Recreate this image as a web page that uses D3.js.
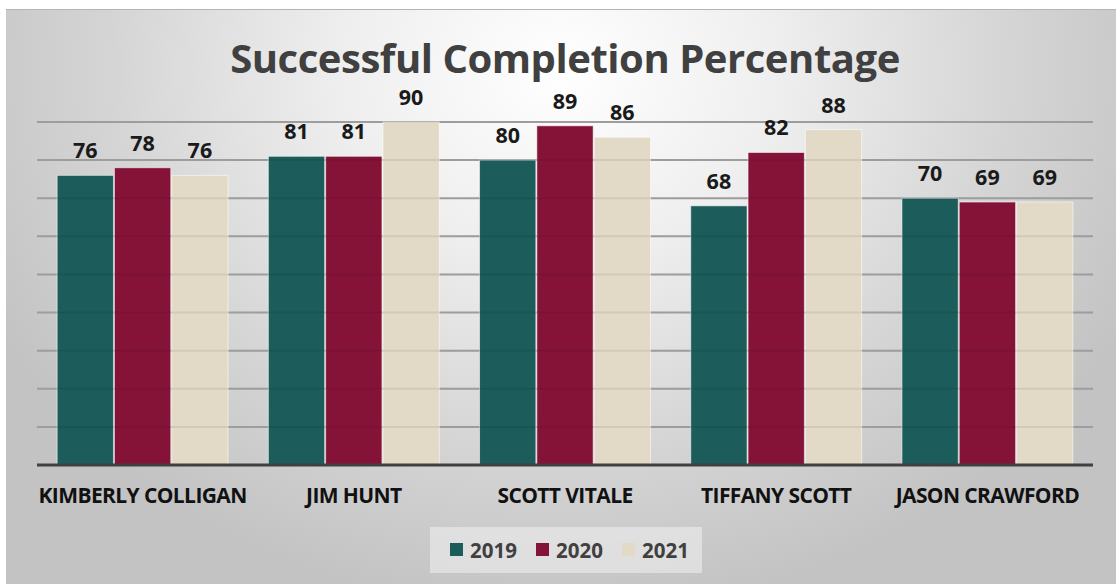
<!DOCTYPE html>
<html>
<head>
<meta charset="utf-8">
<script src="https://cdn.jsdelivr.net/npm/d3@7"></script>
<style>
  html, body { margin: 0; padding: 0; background: #ffffff; }
  svg { display: block; }
</style>
</head>
<body>
<script>
// Successful completion percentage per person, three years
const categories = ["KIMBERLY COLLIGAN", "JIM HUNT", "SCOTT VITALE", "TIFFANY SCOTT", "JASON CRAWFORD"];
const seriesNames = ["2019", "2020", "2021"];
const values2019 = [76, 81, 80, 68, 70];
const values2020 = [78, 81, 89, 82, 69];
const values2021 = [76, 90, 86, 88, 69];
const gridTicks = [0, 10, 20, 30, 40, 50, 60, 70, 80, 90];
const colors = ["#1c5c5a", "#851337", "#e2dac6"];

const series = [values2019, values2020, values2021];
const W = 1116, H = 586;
const margin = { left: 37, right: 23, top: 122, bottom: 121 };

const svg = d3.select("body").append("svg")
  .attr("width", W).attr("height", H);

const defs = svg.append("defs");
const bg = defs.append("radialGradient")
  .attr("id", "bgGrad")
  .attr("gradientUnits", "userSpaceOnUse")
  .attr("cx", 560).attr("cy", 70).attr("r", 640)
  .attr("gradientTransform", "translate(560,70) scale(1,0.85) translate(-560,-70)");
bg.append("stop").attr("offset", "0%").attr("stop-color", "#ffffff");
bg.append("stop").attr("offset", "35%").attr("stop-color", "#eeeeee");
bg.append("stop").attr("offset", "70%").attr("stop-color", "#d5d5d5");
bg.append("stop").attr("offset", "100%").attr("stop-color", "#c3c3c3");

// chart background
svg.append("rect")
  .attr("x", 6).attr("y", 9).attr("width", W - 6).attr("height", 575)
  .attr("fill", "url(#bgGrad)");
svg.append("line")
  .attr("x1", 6).attr("x2", W).attr("y1", 9.5).attr("y2", 9.5)
  .attr("stroke", "#b4b4b4").attr("stroke-width", 1);

const x0 = d3.scaleBand()
  .domain(categories)
  .range([margin.left, W - margin.right])
  .paddingInner(0.186).paddingOuter(0.093);
const x1 = d3.scaleBand()
  .domain(seriesNames)
  .range([0, x0.bandwidth()])
  .padding(0);
const y = d3.scaleLinear()
  .domain([0, 90])
  .range([H - margin.bottom, margin.top]);

const gridValues = gridTicks.filter(t => t > 0);

// gridlines
svg.append("g")
  .selectAll("line")
  .data(gridValues)
  .join("line")
  .attr("x1", margin.left).attr("x2", W - margin.right)
  .attr("y1", d => y(d)).attr("y2", d => y(d))
  .attr("stroke", "#a9a9a9").attr("stroke-width", 2);

// bars
const groups = svg.append("g")
  .selectAll("g")
  .data(categories)
  .join("g")
  .attr("transform", d => `translate(${x0(d)},0)`);

groups.selectAll("rect")
  .data((d, i) => seriesNames.map((s, j) => ({ s, j, v: series[j][i] })))
  .join("rect")
  .attr("x", d => x1(d.s) + 0.5)
  .attr("width", x1.bandwidth() - 1)
  .attr("y", d => y(d.v))
  .attr("height", d => y(0) - y(d.v))
  .attr("fill", d => colors[d.j])
  .attr("stroke", "rgba(255,255,255,0.55)")
  .attr("stroke-width", 1);

// faint gridlines showing through the bars
svg.append("g")
  .selectAll("line")
  .data(gridValues)
  .join("line")
  .attr("x1", margin.left).attr("x2", W - margin.right)
  .attr("y1", d => y(d)).attr("y2", d => y(d))
  .attr("stroke", "#000000").attr("stroke-opacity", 0.07).attr("stroke-width", 2);

// value labels
groups.selectAll("text")
  .data((d, i) => seriesNames.map((s, j) => ({ s, j, v: series[j][i] })))
  .join("text")
  .attr("x", d => x1(d.s) + x1.bandwidth() / 2)
  .attr("y", d => y(d.v) - 17)
  .attr("text-anchor", "middle")
  .attr("font-family", "Open Sans, sans-serif")
  .attr("font-weight", 700)
  .attr("font-size", 21.5)
  .attr("fill", "#1a1a1a")
  .text(d => d.v);

// baseline / category axis
const xAxis = svg.append("g")
  .attr("transform", `translate(0,${y(0)})`)
  .call(d3.axisBottom(x0).tickSize(0).tickPadding(23));
xAxis.select(".domain")
  .attr("d", `M${margin.left},0H${W - margin.right}`)
  .attr("stroke", "#404040").attr("stroke-width", 3);
xAxis.selectAll("text")
  .attr("font-family", "Open Sans, sans-serif")
  .attr("font-weight", 700)
  .attr("font-size", 21)
  .attr("letter-spacing", -0.6)
  .attr("fill", "#111111");

// title
svg.append("text")
  .attr("x", 565).attr("y", 73)
  .attr("text-anchor", "middle")
  .attr("font-family", "Open Sans, sans-serif")
  .attr("font-weight", 700)
  .attr("font-size", 40)
  .attr("letter-spacing", -0.45)
  .attr("fill", "#404040")
  .text("Successful Completion Percentage");

// legend
const legend = svg.append("g");
legend.append("rect")
  .attr("x", 430).attr("y", 527).attr("width", 272).attr("height", 46)
  .attr("fill", "#e8e8e8").attr("fill-opacity", 0.7);
const legendX = [450, 536, 622];
const items = legend.selectAll("g.item")
  .data(seriesNames)
  .join("g")
  .attr("class", "item")
  .attr("transform", (d, i) => `translate(${legendX[i]},543)`);
items.append("rect")
  .attr("width", 13).attr("height", 13)
  .attr("fill", (d, i) => colors[i]);
items.append("text")
  .attr("x", 20).attr("y", 14.5)
  .attr("font-family", "Open Sans, sans-serif")
  .attr("font-weight", 700)
  .attr("font-size", 20.5)
  .attr("fill", "#404040")
  .text(d => d);
</script>
</body>
</html>
